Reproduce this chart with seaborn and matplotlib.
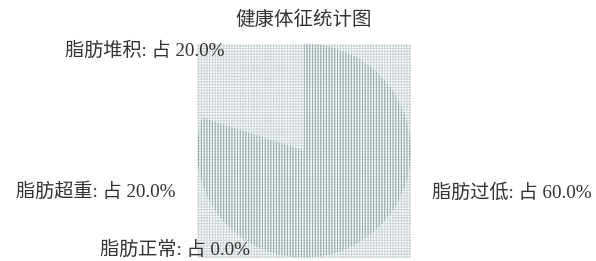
import matplotlib
matplotlib.use("Agg")
import matplotlib.pyplot as plt
import seaborn as sns

# Dados do gráfico
categorias = ['脂肪过低', '脂肪堆积', '脂肪超重', '脂肪正常']
valores = [60, 20, 20, 0]
hachuras = ['||||||', '', '||||||', '']

sns.set_theme(style="white")
plt.rcParams['font.family'] = ['Liberation Serif', 'Noto Sans CJK SC']
plt.rcParams['hatch.linewidth'] = 0.7

total = sum(valores)
rotulos = [f"{c}: 占 {v / total * 100:.1f}%" for c, v in zip(categorias, valores)]

fig = plt.figure(figsize=(5.96, 2.61), dpi=100)
ax = fig.add_axes([0.3305, 0.012, 0.359, 0.822])

# Fundo quadrado com grade fina
ax.patch.set_facecolor('white')
ax.patch.set_hatch('++++++')
ax.patch.set_edgecolor('#cbd4d6')

wedges, textos = ax.pie(valores, labels=rotulos, startangle=-126, labeldistance=1.26,
                        frame=True, textprops={'fontsize': 13.8, 'color': '#333333'},
                        wedgeprops={'facecolor': 'none', 'edgecolor': '#98aaad', 'linewidth': 0})
for w, h in zip(wedges, hachuras):
    w.set_hatch(h)

# ajuste dos rótulos que ficam sobrepostos
textos[1].set_position((-0.74, 0.93))
textos[3].set_position((-0.5, -0.93))

ax.set_xlim(-1, 1)
ax.set_ylim(-1, 1)
ax.set_aspect('equal')
ax.set_xticks([])
ax.set_yticks([])
for s in ax.spines.values():
    s.set_visible(False)

fig.text(0.51, 0.925, '健康体征统计图', ha='center', va='center', fontsize=14, color='#333333')

fig.savefig('out.png', dpi=100)
